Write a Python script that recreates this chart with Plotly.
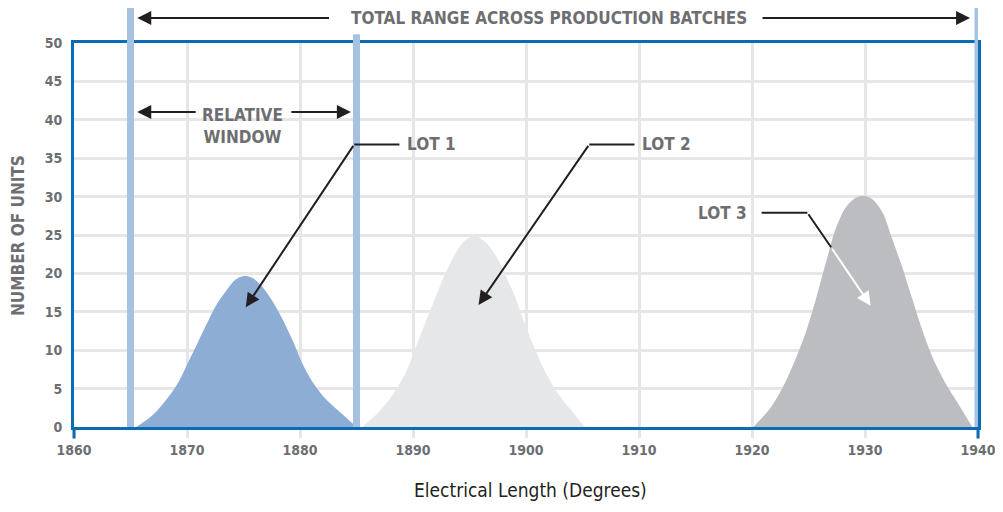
import plotly.graph_objects as go

# values (degrees -> number of units)
lot1_x = [1865.5, 1867.0, 1868.4, 1869.3, 1870.0, 1870.8, 1871.7, 1872.6, 1873.5, 1874.3, 1875.1,
          1875.8, 1876.7, 1877.6, 1878.5, 1879.4, 1880.2, 1881.1, 1882.3, 1883.8, 1885.0]
lot1_y = [0, 1.6, 4.0, 6.0, 8.1, 10.5, 13.3, 15.9, 17.8, 19.2, 19.7,
          19.4, 18.2, 16.3, 13.9, 11.1, 8.3, 5.9, 3.6, 1.6, 0]

lot2_x = [1885.5, 1887.0, 1888.2, 1889.4, 1890.0, 1890.8, 1891.7, 1892.6, 1893.5, 1894.4, 1895.4,
          1896.4, 1897.3, 1898.2, 1899.1, 1899.9, 1900.8, 1901.7, 1902.9, 1904.1, 1905.2]
lot2_y = [0, 2.0, 4.2, 7.2, 9.4, 12.5, 15.8, 19.1, 21.9, 24.0, 24.9,
          24.1, 22.4, 19.7, 16.7, 13.4, 10.1, 7.2, 4.2, 2.0, 0]

lot3_x = [1920.1, 1921.6, 1922.7, 1923.9, 1924.8, 1925.7, 1926.6, 1927.4, 1928.3, 1929.1, 1929.9,
          1930.7, 1931.6, 1932.4, 1933.3, 1934.2, 1935.1, 1936.0, 1937.2, 1938.3, 1939.5]
lot3_y = [0, 2.4, 5.1, 9.0, 12.5, 16.9, 21.7, 25.8, 28.6, 29.8, 30.1,
          29.6, 27.8, 24.5, 20.8, 16.6, 12.5, 9.0, 5.5, 2.9, 0]

window_lines = [1865, 1885, 1940]
x_ticks = [1860, 1870, 1880, 1890, 1900, 1910, 1920, 1930, 1940]
y_ticks = [0, 5, 10, 15, 20, 25, 30, 35, 40, 45, 50]

BOLD = "DejaVu Sans Condensed, Liberation Sans Narrow, Arial Narrow, sans-serif"
GREY_TXT = "#6d6e71"
INK = "#231f20"
FRAME = "#0a6cb4"
BAR = "#a7c2e1"

fig = go.Figure()

for xs, ys, col in [(lot1_x, lot1_y, "#8eadd4"), (lot2_x, lot2_y, "#e6e7e8"), (lot3_x, lot3_y, "#bcbdc0")]:
    fig.add_trace(go.Scatter(
        x=xs, y=ys, mode="lines", fill="tozeroy",
        line=dict(color=col, width=0, shape="spline", smoothing=0.85),
        fillcolor=col, hoverinfo="skip", showlegend=False,
    ))

# light blue window markers, running up past the frame
tops = {1865: 1.096, 1885: 1.023, 1940: 1.096}
for xv in window_lines:
    fig.add_shape(type="line", xref="x", yref="paper", x0=xv, x1=xv, y0=0, y1=tops[xv],
                  line=dict(color=BAR, width=7), layer="above")

# frame sides poke out a little below the axis
for xp in [0, 1]:
    fig.add_shape(type="line", xref="paper", yref="paper", x0=xp, x1=xp, y0=0, y1=-0.03,
                  line=dict(color=FRAME, width=3))

# leader lines (horizontal parts)
for x0, x1, yv in [(1884.8, 1888.8, 36.8), (1905.6, 1909.6, 36.8), (1920.85, 1924.9, 27.9)]:
    fig.add_shape(type="line", x0=x0, x1=x1, y0=yv, y1=yv, line=dict(color=INK, width=2))

arrow = dict(showarrow=True, arrowhead=2, arrowsize=1.4, arrowwidth=2, arrowcolor=INK,
             axref="x", ayref="y", text="")
fig.add_annotation(x=1875.2, y=15.6, ax=1884.8, ay=36.8, **arrow)
fig.add_annotation(x=1895.8, y=15.9, ax=1905.6, ay=36.8, **arrow)
fig.add_annotation(x=1927.0, y=23.4, ax=1924.9, ay=27.9, **{**arrow, "arrowhead": 0})
fig.add_annotation(x=1930.5, y=15.8, ax=1927.0, ay=23.4, **{**arrow, "arrowcolor": "white"})

lab = dict(showarrow=False, font=dict(family=BOLD, size=17, color=GREY_TXT, weight="bold"))
fig.add_annotation(x=1889.3, y=36.8, text="LOT 1", xanchor="left", **lab)
fig.add_annotation(x=1910.1, y=36.8, text="LOT 2", xanchor="left", **lab)
fig.add_annotation(x=1919.7, y=27.9, text="LOT 3", xanchor="right", **lab)
fig.add_annotation(x=1874.9, y=39.2, text="RELATIVE<br>WINDOW", **lab)

# relative window arrows
harrow = dict(showarrow=True, arrowhead=2, arrowsize=1.4, arrowwidth=2, arrowcolor=INK,
              axref="x", ayref="pixel", ay=0, text="")
fig.add_annotation(x=1865.6, y=41.0, ax=1870.9, **harrow)
fig.add_annotation(x=1884.5, y=41.0, ax=1879.1, **harrow)

# total range arrows above the frame
fig.add_annotation(x=1865.6, y=1.065, yref="paper", ax=1882.7, **harrow)
fig.add_annotation(x=1939.3, y=1.065, yref="paper", ax=1920.8, **harrow)
fig.add_annotation(x=1902.0, y=1.065, yref="paper", yanchor="middle",
                   text="TOTAL RANGE ACROSS PRODUCTION BATCHES", showarrow=False,
                   font=dict(family=BOLD, size=17, color=GREY_TXT, weight="bold"))

# axis titles
fig.add_annotation(x=-0.062, y=0.5, xref="paper", yref="paper", xanchor="center", yanchor="middle",
                   text="NUMBER OF UNITS", textangle=-90, showarrow=False,
                   font=dict(family=BOLD, size=17, color=GREY_TXT, weight="bold"))
fig.add_annotation(x=0.505, y=-0.165, xref="paper", yref="paper", xanchor="center", yanchor="middle",
                   text="Electrical Length (Degrees)", showarrow=False,
                   font=dict(family="DejaVu Sans Condensed, sans-serif", size=19, color=INK))

# the page has an 8px body margin all round, so keep the figure inside the window
fig.update_layout(
    width=987, height=496,
    margin=dict(l=66, r=17, t=35, b=77),
    plot_bgcolor="white", paper_bgcolor="white",
    xaxis=dict(
        range=[1860, 1940], tickvals=x_ticks, showgrid=True, gridcolor="#e6e6e6", gridwidth=3,
        showline=True, linecolor=FRAME, linewidth=3, mirror=True, zeroline=False,
        ticks="outside", ticklen=8, tickwidth=3, tickcolor="#e6e6e6",
        automargin=False, ticklabeloverflow="allow",
        tickfont=dict(family=BOLD, size=14, color=GREY_TXT, weight="bold"),
    ),
    yaxis=dict(
        range=[0, 50], tickvals=y_ticks, showgrid=True, gridcolor="#e6e6e6", gridwidth=3,
        showline=True, linecolor=FRAME, linewidth=3, mirror=True, zeroline=False,
        ticks="", ticklabelstandoff=6, automargin=False,
        tickfont=dict(family=BOLD, size=14, color=GREY_TXT, weight="bold"),
    ),
)

fig.write_html("out.html")
